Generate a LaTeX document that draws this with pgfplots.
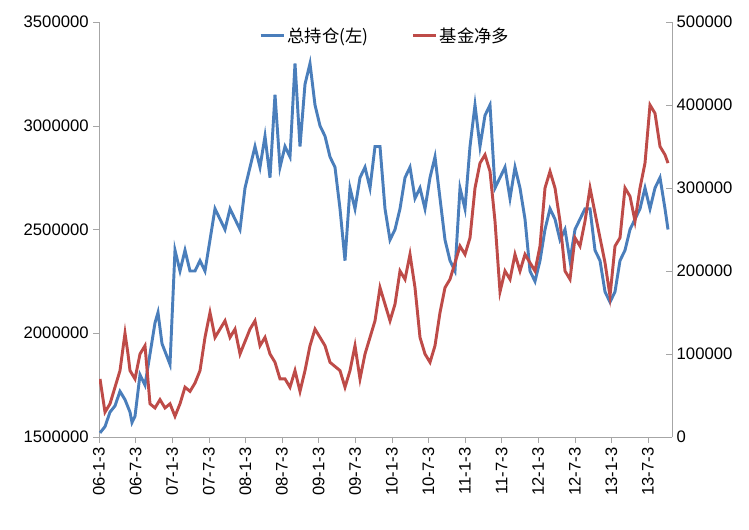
\documentclass[border=0pt]{standalone}
\usepackage{pgfplots}
\pgfplotsset{compat=1.18}
\usepackage{fontspec}
\setmainfont{Liberation Sans}
\newfontfamily\cjk{Noto Sans CJK SC}
\definecolor{bl}{RGB}{74,126,187}
\definecolor{rd}{RGB}{190,75,72}
\begin{document}
\begin{tikzpicture}
\useasboundingbox (-99pt*0.75,-92pt*0.75) rectangle (650pt*0.75,22pt*0.75+415pt*0.75);
\pgfplotsset{every axis/.style={scale only axis, width=429.75pt, height=311.25pt,
  xmin=99, xmax=672, axis line style={gray!70}, tick style={gray!70},
  /pgf/number format/assume math mode=true, tick label style={font=\fontsize{12.5}{14}\selectfont},
  scaled y ticks=false, yticklabel style={/pgf/number format/fixed,/pgf/number format/1000 sep={}}}}
\begin{axis}[axis y line*=left, axis x line*=bottom,
  ymin=1500000, ymax=3500000, ytick={1500000,2000000,2500000,3000000,3500000},
  xtick={99,135.6,172.2,208.8,245.4,282,318.6,355.2,391.8,428.4,465,501.6,538.2,574.8,611.4,648},
  xticklabels={06-1-3,06-7-3,07-1-3,07-7-3,08-1-3,08-7-3,09-1-3,09-7-3,10-1-3,10-7-3,11-1-3,11-7-3,12-1-3,12-7-3,13-1-3,13-7-3},
  xticklabel style={rotate=90,anchor=east}, xtick pos=bottom, tick align=outside, ytick pos=left,
  legend style={draw=none, fill=none, at={(0.5,1.0)}, anchor=north, legend columns=2, font=\cjk\fontsize{13}{15}\selectfont, /tikz/every even column/.append style={column sep=30pt}},
  legend cell align=left]
\addplot[bl, line width=2.2pt] coordinates {
(100,1520000)(105,1550000)(110,1620000)(115,1650000)(120,1720000)(125,1680000)(130,1620000)(132,1570000)(135,1600000)(140,1800000)(145,1750000)(150,1900000)(155,2050000)(158,2100000)(162,1950000)(166,1900000)(170,1850000)(175,2400000)(180,2300000)(185,2400000)(190,2300000)(195,2300000)(200,2350000)(205,2300000)(210,2450000)(215,2600000)(220,2550000)(225,2500000)(230,2600000)(235,2550000)(240,2500000)(245,2700000)(250,2800000)(255,2900000)(260,2800000)(265,2950000)(270,2750000)(275,3150000)(280,2800000)(285,2900000)(290,2850000)(295,3300000)(300,2900000)(305,3200000)(310,3300000)(315,3100000)(320,3000000)(325,2950000)(330,2850000)(335,2800000)(340,2600000)(345,2350000)(350,2700000)(355,2600000)(360,2750000)(365,2800000)(370,2700000)(375,2900000)(380,2900000)(385,2600000)(390,2450000)(395,2500000)(400,2600000)(405,2750000)(410,2800000)(415,2650000)(420,2700000)(425,2600000)(430,2750000)(435,2850000)(440,2650000)(445,2450000)(450,2350000)(455,2300000)(460,2700000)(465,2600000)(470,2900000)(475,3100000)(480,2900000)(485,3050000)(490,3100000)(495,2700000)(500,2750000)(505,2800000)(510,2650000)(515,2800000)(520,2700000)(525,2550000)(530,2300000)(535,2250000)(540,2350000)(545,2500000)(550,2600000)(555,2550000)(560,2450000)(565,2500000)(570,2350000)(575,2500000)(580,2550000)(585,2600000)(590,2600000)(595,2400000)(600,2350000)(605,2200000)(610,2150000)(615,2200000)(620,2350000)(625,2400000)(630,2500000)(635,2550000)(640,2600000)(645,2700000)(650,2600000)(655,2700000)(660,2750000)(665,2600000)(668,2500000)};
\addlegendentry{总持仓(左)}
\addlegendimage{rd, line width=2.2pt}
\addlegendentry{基金净多}
\end{axis}
\begin{axis}[axis y line*=right, axis x line=none, ymin=0, ymax=500000, ytick={0,100000,200000,300000,400000,500000}, ytick pos=right, tick align=inside]
\addplot[rd, line width=2.2pt] coordinates {
(100,70000)(105,30000)(110,40000)(115,60000)(120,80000)(125,125000)(128,100000)(130,80000)(135,70000)(140,100000)(145,110000)(150,40000)(155,35000)(160,45000)(165,35000)(170,40000)(175,25000)(180,40000)(185,60000)(190,55000)(195,65000)(200,80000)(205,120000)(210,150000)(215,120000)(220,130000)(225,140000)(230,120000)(235,130000)(240,100000)(245,115000)(250,130000)(255,140000)(260,110000)(265,120000)(270,100000)(275,90000)(280,70000)(285,70000)(290,60000)(295,80000)(300,55000)(305,80000)(310,110000)(315,130000)(320,120000)(325,110000)(330,90000)(335,85000)(340,80000)(345,60000)(350,80000)(355,110000)(360,70000)(365,100000)(370,120000)(375,140000)(380,180000)(385,160000)(390,140000)(395,160000)(400,200000)(405,190000)(410,220000)(415,180000)(420,120000)(425,100000)(430,90000)(435,110000)(440,150000)(445,180000)(450,190000)(455,210000)(460,230000)(465,220000)(470,240000)(475,300000)(480,330000)(485,340000)(490,320000)(495,260000)(500,175000)(505,200000)(510,190000)(515,220000)(520,200000)(525,220000)(530,210000)(535,200000)(540,230000)(545,300000)(550,320000)(555,300000)(560,260000)(565,200000)(570,190000)(575,240000)(580,230000)(585,260000)(590,300000)(595,270000)(600,240000)(605,210000)(610,170000)(615,230000)(620,240000)(625,300000)(630,290000)(635,260000)(640,300000)(645,330000)(650,400000)(655,390000)(660,350000)(665,340000)(668,330000)};
\end{axis}
\end{tikzpicture}
\end{document}
